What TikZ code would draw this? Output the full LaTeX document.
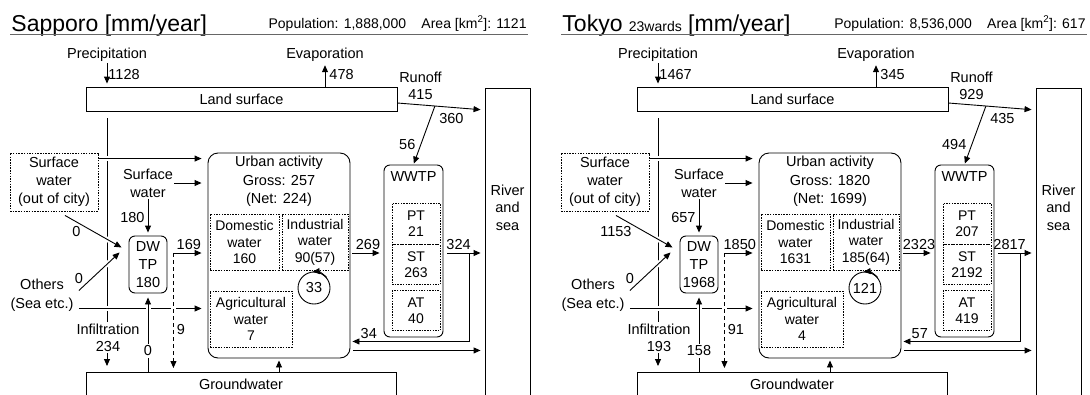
\documentclass[tikz,border=0pt]{standalone}
\usepackage{fontspec}
\setmainfont{Liberation Sans}
\usetikzlibrary{positioning,arrows.meta,calc}

\newcommand{\fsz}[2]{\fontsize{#1}{#2}\selectfont}

\begin{document}
\begin{tikzpicture}[
    x=1pt, y=-1pt, line width=0.9pt,
    every node/.style={font=\fsz{14.5}{17}, inner sep=1pt},
    box/.style  ={draw, inner sep=0pt, align=center},
    rbox/.style ={box, rounded corners=6pt},
    dbox/.style ={box, dash pattern=on 1.5pt off 1.2pt, font=\fsz{14}{16.5}},
    arr/.style  ={-{Triangle[length=7pt,width=6pt]}},
    gap/.style  ={preaction={draw=white, line width=5pt, -, shorten <=2pt, shorten >=9pt}},
    lbl/.style  ={fill=white, inner sep=2pt}
  ]
  \useasboundingbox (0,0) rectangle (1090,394);

  \foreach \xs/\nHr/\nCity/\nPop/\nArea/\nPrec/\nEvap/\nRun/\nRiv/\nToW/\nOut/\nSurf/\nOth/\nDW/\nTP/\nGross/\nNet/\nDom/\nInd/\nRec/\nAgr/\nWW/\nPT/\nST/\nAT/\nEff/\nRet/\nInf/\nGwu/\nLeak in {
    0/528/Sapporo/{1,888,000}/1121/1128/478/415/360/56/0/180/0/169/180/257/224/160/90(57)/33/7/269/21/263/40/324/34/234/0/9,
    551/536/{Tokyo {\fsz{14}{16}23wards}}/{8,536,000}/617/1467/345/929/435/494/1153/657/0/1850/1968/1820/1699/1631/185(64)/121/4/2323/207/2192/419/2817/57/193/158/91}
  {
  \begin{scope}[xshift=\xs pt]
    % header
    \node[anchor=base west, font=\fsz{23}{26}] (title) at (10,31) {\nCity{} [mm/year]};
    \node[anchor=base east, font=\fsz{14}{15}] (info) at (\nHr,28)
      {Population: \nPop\hspace{1.1em}Area [km\textsuperscript{2}]: \nArea};
    \coordinate (hl) at (10,34.5);
    \coordinate (hr) at (\nHr,34.5);
    \draw[black!60] (hl) -- (hr);

    % land surface, river
    \node (prec) at (107,55) {Precipitation};
    \node (evap) at (325,55) {Evaporation};
    \node[box, minimum width=311pt, minimum height=24pt] (land) at (241.5,99) {Land surface};
    \node[box, minimum width=45pt, minimum height=330pt, anchor=north] (river) at (507.5,88) {};
    \node[align=center, font=\fsz{14.5}{17.5}] (sea) at (507.5,207.5) {River\\and\\sea};
    \node[align=center] (run) at (420.5,85.5) {Runoff\\\nRun};

    % urban activity
    \node[rbox, rounded corners=10pt, minimum width=142pt, minimum height=205pt] (urban) at (279,255.5) {};
    \node[align=center, font=\fsz{14.5}{18.5}] (utxt) at (279,181.5) {Urban activity\\Gross: \nGross\\(Net: \nNet)};
    \node[dbox, minimum width=69pt, minimum height=56pt] (dom) at (244.5,242) {Domestic\\water\\\nDom};
    \node[dbox, minimum width=66pt, minimum height=56pt] (ind) at (315,242) {Industrial\\water\\\nInd};
    \node[dbox, minimum width=82pt, minimum height=56pt] (agr) at (251,319) {Agricultural\\water\\\nAgr};
    \node[draw, circle, minimum size=32pt, inner sep=0pt] (rec) at (314,288) {\nRec};
    \draw[arr] (rec.40) arc[start angle=40, end angle=96, radius=16pt];

    % WWTP
    \node[rbox, minimum width=59pt, minimum height=172pt] (wwtp) at (413.5,251) {};
    \node (wwtxt) at (413.5,177) {WWTP};
    \node[dbox, font=\fsz{14}{15.5}, minimum width=48pt, minimum height=41pt] (ptb) at (416,223.5) {PT\\\nPT};
    \node[dbox, font=\fsz{14}{15.5}, minimum width=48pt, minimum height=40pt, below=0pt of ptb] (stb) {ST\\\nST};
    \node[dbox, font=\fsz{14}{15.5}, minimum width=48pt, minimum height=40pt, below=5pt of stb] (atb) {AT\\\nAT};

    % sources, drinking water, groundwater
    \node[dbox, font=\fsz{14.5}{18}, minimum width=88pt, minimum height=58pt] (sout) at (54,182) {Surface\\water\\(out of city)};
    \node[align=center, font=\fsz{14.5}{18}] (swin) at (148,183) {Surface\\water};
    \node[rbox, font=\fsz{14.5}{18}, minimum width=38pt, minimum height=57pt] (dwtp) at (148,264.5) {DW\\TP\\\nTP};
    \node[align=center, font=\fsz{14.5}{19}] (oth) at (42,295.5) {Others\\(Sea etc.)};
    \node[box, minimum width=310pt, minimum height=40pt, anchor=north] (gw) at (241,372) {};
    \node (gwtxt) at (241,384) {Groundwater};

    % flows
    \draw[arr, shorten >=3pt] (prec) -- (prec |- land.north) node[pos=.5, right] {\nPrec};
    \draw[arr, shorten >=2pt] (evap |- land.north) -- (evap) node[midway, right=3pt] {\nEvap};
    \coordinate (r0) at ($(land.east)+(0,4)$);
    \coordinate (r1) at ($(river.north west)+(0,22)$);
    \coordinate (rb) at ($(r0)!.43!(r1)$);
    \draw[arr, shorten >=4pt] (r0) -- (r1) node[pos=.62, below=5pt] {\nRiv};
    \draw[arr, shorten >=1pt] (rb) -- (wwtp.north) node[pos=.66, left=4pt] {\nToW};

    \draw[arr, shorten <=7pt, shorten >=6pt] (prec |- land.south) -- (prec |- gw.north);
    \node[lbl, align=center] (inf) at (108,337.5) {Infiltration\\\nInf};

    \coordinate (so) at ($(sout.north east)+(0,6)$);
    \draw[arr, gap, shorten >=6pt] (so) -- (so -| urban.west);
    \draw[arr, shorten >=6pt] (swin) -- (swin -| urban.west);
    \draw[arr, shorten >=3pt] (swin) -- (dwtp) node[pos=.5, left=2pt] {\nSurf};
    \draw[arr, gap] ($(sout.south)+(11,4)$) -- ($(dwtp.west)+(-7,-17)$) node[pos=.3, below left] {\nOut};
    \coordinate (oa) at ($(oth.east)+(4,-5)$);
    \coordinate (ob) at ($(oth.east)+(4,13)$);
    \draw[arr, gap] (oa) -- ($(dwtp.west)+(-9,-12)$) node[pos=0, above=5pt] {\nOth};
    \draw[arr, gap, shorten >=6pt] (ob) -- (ob -| urban.west);

    \coordinate (dl) at ($(dwtp.east)+(6,-11.5)$);
    \draw[arr, shorten >=6pt] (dl) -- (dl -| urban.west) node[pos=.45, above=2pt] {\nDW};
    \draw[arr, gap, dash pattern=on 4pt off 3pt, shorten >=4pt] (dl) -- (dl |- gw.north) node[pos=.64, right=2pt] {\nLeak};
    \draw[arr, gap, shorten >=4pt] (dwtp |- gw.north) -- (dwtp) node[lbl, pos=.27] {\nGwu};
    \draw[arr, shorten >=2pt] (urban |- gw.north) -- (urban);

    \coordinate (u1) at ($(urban.east)+(2,-2.5)$);
    \draw[arr, shorten >=4pt] (u1) -- (u1 -| wwtp.west) node[midway, above=2pt] {\nWW};
    \coordinate (w1) at ($(wwtp.east)+(4,2)$);
    \draw[arr, shorten >=4pt] (w1) -- (w1 -| river.west) node[pos=.3, above=2pt] {\nEff};
    \coordinate (w2) at ($(w1)!.58!(w1 -| river.west)$);
    \coordinate (u2) at ($(urban.south east)+(2,-17)$);
    \draw[arr] (w2) |- (u2) node[pos=.93, above=1pt] {\nRet};
    \coordinate (u3) at ($(urban.south east)+(3,-8)$);
    \draw[arr, shorten >=4pt] (u3) -- (u3 -| river.west);
  \end{scope}
  }
\end{tikzpicture}
\end{document}
